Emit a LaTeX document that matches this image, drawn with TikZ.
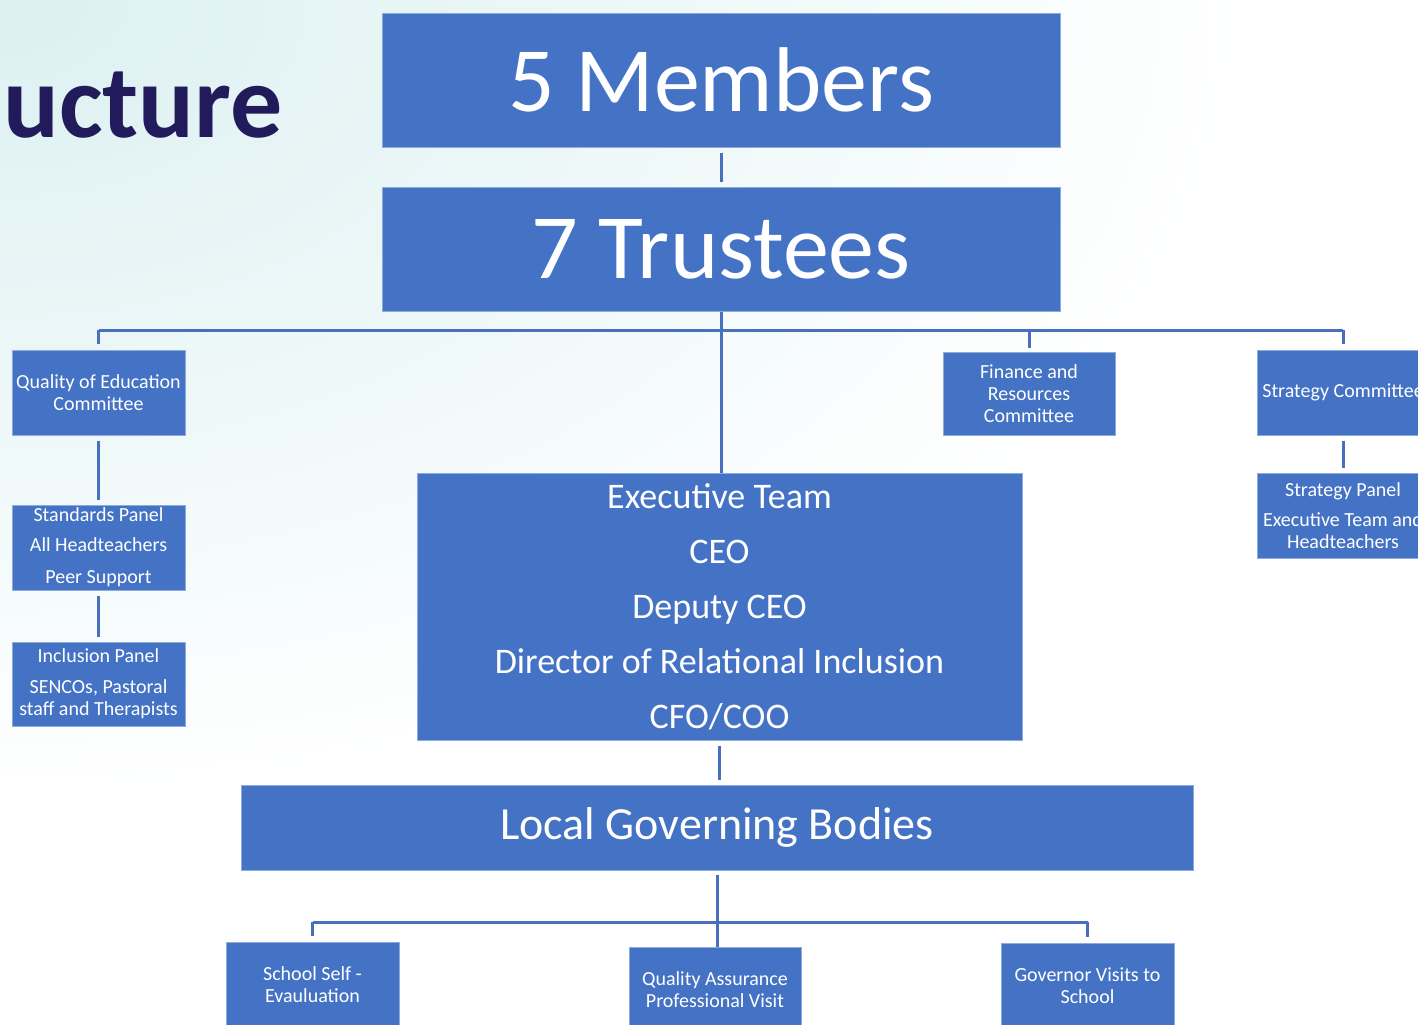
\documentclass[tikz,border=0pt]{standalone}
\usepackage{fontspec}
\setmainfont{Carlito}
\definecolor{boxblue}{RGB}{68,114,196}
\definecolor{linkblue}{RGB}{72,112,190}
\definecolor{titlenavy}{RGB}{33,26,91}
\definecolor{bgteal}{RGB}{220,240,241}
\tikzset{
  box/.style={fill=boxblue, draw=boxblue!60!white, line width=0.5pt, text=white, inner sep=0pt, align=center},
  smallbox/.style={box, minimum width=86.5pt, minimum height=42.5pt, font=\fontsize{10}{11}\selectfont},
  link/.style={draw=linkblue, line width=1.5pt},
  gap/.style={shorten <=2.5pt, shorten >=2.5pt},
}
\begin{document}
\begin{tikzpicture}[x=0.5pt,y=0.5pt,yscale=-1,xscale=1]
\useasboundingbox (0,0) rectangle (1418,1024);
\clip (0,0) rectangle (1418,1024);

%Background
\fill[white] (0,0) rectangle (1418,1024);
\shade[inner color=bgteal, outer color=white] (0,0) ellipse [x radius=1250, y radius=800];

%Title
\node[anchor=base west, inner sep=0pt, text=titlenavy, font=\fontsize{52}{56}\selectfont\bfseries] (title) at (3,137) {ucture};

%Board
\node[box, minimum width=339pt, minimum height=67pt, font=\fontsize{46}{50}\selectfont] (members) at (721,80) {5 Members};
\node[box, minimum width=339pt, minimum height=62pt, font=\fontsize{46}{50}\selectfont] (trustees) at (721,249) {7 Trustees};

%Committees
\node[smallbox] (qoe) at (98.5,392.5) {Quality of Education\\Committee};
\node[smallbox] (stdpanel) at (98.5,547.5) {Standards Panel\\[4pt]All Headteachers\\[5pt]Peer Support};
\node[smallbox, minimum height=42pt] (inclpanel) at (98.5,684) {Inclusion Panel\\[4.5pt]SENCOs, Pastoral\\staff and Therapists};
\node[smallbox, minimum width=86pt, minimum height=41.5pt] (finance) at (1029,393.5) {Finance and\\Resources\\Committee};
\node[smallbox, minimum width=86pt] (strategy) at (1343,392.5) {Strategy Committee};
\node[smallbox, minimum width=86pt] (stratpanel) at (1343,515.5) {Strategy Panel\\[4pt]Executive Team and\\Headteachers};

%Executive
\node[box, minimum width=302.5pt, minimum height=133.5pt, font=\fontsize{18}{27.5}\selectfont] (exec) at (719.5,606.5) {Executive Team\\CEO\\Deputy CEO\\Director of Relational Inclusion\\CFO/COO};

%Local level
\node[box, minimum width=476pt, minimum height=42.5pt, font=\fontsize{23}{26}\selectfont] (lgb) at (717,827.5) {Local Governing Bodies};
\node[smallbox, minimum height=43pt] (selfeval) at (312.5,985) {School Self -\\Evauluation};
\node[smallbox, minimum width=86pt, minimum height=43pt] (qavisit) at (715,990) {Quality Assurance\\Professional Visit};
\node[smallbox, minimum height=43pt] (govvisit) at (1087.5,986) {Governor Visits to\\School};

%Connectors
\coordinate (bus) at (721,330);
\coordinate (lowbus) at (717,922);
\draw[link, gap] (members) -- (trustees);
\draw[link] (trustees.south) -- (trustees.south |- exec.north);
\draw[link, shorten >=3pt] (qoe.north |- bus) -- (qoe.north);
\draw[link] (qoe.north |- bus) -- (strategy.north |- bus);
\draw[link, shorten >=3pt] (strategy.north |- bus) -- (strategy.north);
\draw[link, shorten >=2pt] (finance.north |- bus) -- (finance.north);
\draw[link, gap] (qoe) -- (stdpanel);
\draw[link, gap] (stdpanel) -- (inclpanel);
\draw[link, gap] (strategy) -- (stratpanel);
\draw[link, gap] (exec.south) -- (exec.south |- lgb.north);
\draw[link, shorten <=2pt] (lgb.south) -- (lgb.south |- qavisit.north);
\draw[link] (selfeval.north |- lowbus) -- (govvisit.north |- lowbus);
\draw[link, shorten >=3pt] (selfeval.north |- lowbus) -- (selfeval.north);
\draw[link, shorten >=3pt] (govvisit.north |- lowbus) -- (govvisit.north);

\end{tikzpicture}
\end{document}
